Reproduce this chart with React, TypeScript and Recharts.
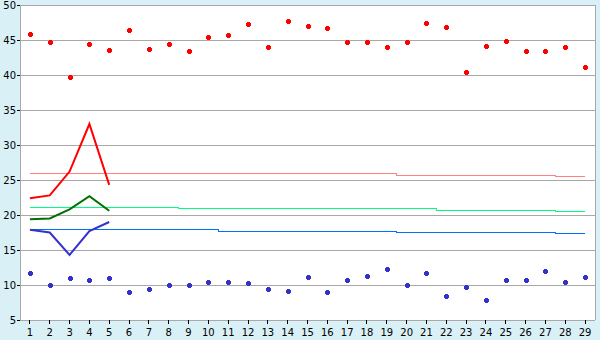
import React from 'react';
import { ComposedChart, Line, XAxis, YAxis, CartesianGrid } from 'recharts';

const categories = ['1','2','3','4','5','6','7','8','9','10','11','12','13','14','15','16','17','18','19','20','21','22','23','24','25','26','27','28','29'];
const yTicks = [5, 10, 15, 20, 25, 30, 35, 40, 45, 50];

const redPoints = [45.8,44.7,39.7,44.4,43.6,46.4,43.7,44.4,43.4,45.4,45.7,47.3,44.0,47.7,47.0,46.7,44.7,44.7,44.0,44.7,47.4,46.9,40.4,44.1,44.9,43.4,43.4,44.0,41.1];
const bluePoints = [11.7,10.0,11.0,10.7,11.0,9.0,9.4,10.0,10.0,10.4,10.4,10.3,9.4,9.1,11.1,9.0,10.7,11.3,12.3,10.0,11.7,8.4,9.7,7.9,10.7,10.7,12.0,10.4,11.1];

const redLine = [22.4,22.8,26.2,33.0,24.3];
const greenLine = [19.4,19.5,20.8,22.7,20.6];
const blueLine = [17.9,17.5,14.3,17.7,19.0];

const pinkLevel = [26.0,26.0,26.0,26.0,26.0,26.0,26.0,26.0,26.0,26.0,26.0,26.0,26.0,25.86,25.86,25.86,25.86,25.86,25.86,25.71,25.71,25.71,25.71,25.71,25.71,25.71,25.71,25.57,25.57];
const greenLevel = [21.14,21.14,21.14,21.14,21.14,21.14,21.14,21.14,21.0,21.0,21.0,21.0,21.0,21.0,21.0,21.0,21.0,21.0,20.86,20.86,20.86,20.71,20.71,20.71,20.71,20.71,20.71,20.57,20.57];
const blueLevel = [17.86,17.86,17.86,17.86,17.86,17.86,17.86,17.86,17.86,17.86,17.71,17.71,17.71,17.71,17.71,17.71,17.71,17.71,17.71,17.57,17.57,17.57,17.43,17.43,17.43,17.43,17.43,17.29,17.29];

const data = categories.map((c, i) => ({
  cat: c,
  redP: redPoints[i],
  blueP: bluePoints[i],
  redL: i < redLine.length ? redLine[i] : null,
  greenL: i < greenLine.length ? greenLine[i] : null,
  blueL: i < blueLine.length ? blueLine[i] : null,
  pink: pinkLevel[i],
  greenLv: greenLevel[i],
  blueLv: blueLevel[i],
}));

const makeMarker = (color: string) => (props: any) => {
  const { cx, cy, index } = props;
  if (cx == null || cy == null) return <g key={index} />;
  const x = Math.round(cx);
  const y = Math.round(cy);
  return (
    <g key={index} shapeRendering="crispEdges">
      <rect x={x - 2} y={y - 1} width={5} height={3} fill={color} />
      <rect x={x - 1} y={y - 2} width={3} height={5} fill={color} />
    </g>
  );
};

const tickStyle = { fontFamily: 'DejaVu Sans', fontSize: 10, fill: '#000' };
const gray = '#a8a8a8';

export default function App() {
  return (
    <div style={{ position: 'absolute', left: 0, top: 0, width: 600, height: 340, background: '#daf0f7' }}>
      <ComposedChart width={600} height={340} data={data} margin={{ top: 5, right: 0, bottom: 0, left: 0 }}>
        <CartesianGrid yAxisId="l" vertical={false} stroke={gray} fill="#ffffff" fillOpacity={1} shapeRendering="crispEdges" />
        <XAxis dataKey="cat" scale="band" height={20} tick={tickStyle} tickSize={4} tickMargin={5} stroke={gray} tickLine={{ stroke: '#000' }} interval={0} shapeRendering="crispEdges" />
        <YAxis yAxisId="l" domain={[5, 50]} ticks={yTicks} width={20} tick={tickStyle} tickSize={3} tickMargin={1} stroke={gray} tickLine={{ stroke: '#000' }} interval={0} shapeRendering="crispEdges" />
        <YAxis yAxisId="r" orientation="right" domain={[5, 50]} width={5} tick={false} tickLine={false} stroke={gray} shapeRendering="crispEdges" />
        <Line yAxisId="l" dataKey="pink" type="step" stroke="#ff8080" strokeWidth={1} dot={false} activeDot={false} isAnimationActive={false} shapeRendering="crispEdges" />
        <Line yAxisId="l" dataKey="greenLv" type="step" stroke="#00ff80" strokeWidth={1} dot={false} activeDot={false} isAnimationActive={false} shapeRendering="crispEdges" />
        <Line yAxisId="l" dataKey="blueLv" type="step" stroke="#0070ff" strokeWidth={1} dot={false} activeDot={false} isAnimationActive={false} shapeRendering="crispEdges" />
        <Line yAxisId="l" dataKey="redL" type="linear" stroke="#ff0000" strokeWidth={2} dot={false} activeDot={false} isAnimationActive={false} />
        <Line yAxisId="l" dataKey="greenL" type="linear" stroke="#007000" strokeWidth={2} dot={false} activeDot={false} isAnimationActive={false} />
        <Line yAxisId="l" dataKey="blueL" type="linear" stroke="#3333cc" strokeWidth={2} dot={false} activeDot={false} isAnimationActive={false} />
        <Line yAxisId="l" dataKey="redP" stroke="none" dot={makeMarker('#ff0000')} activeDot={false} isAnimationActive={false} />
        <Line yAxisId="l" dataKey="blueP" stroke="none" dot={makeMarker('#3333cc')} activeDot={false} isAnimationActive={false} />
      </ComposedChart>
    </div>
  );
}
